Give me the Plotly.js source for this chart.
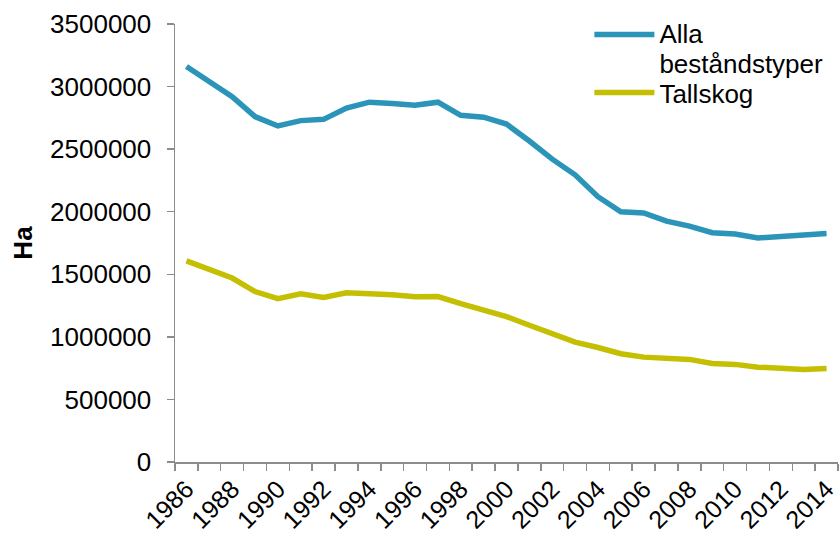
<!DOCTYPE html>
<html>
<head>
<meta charset="utf-8">
<script src="https://cdn.plot.ly/plotly-3.0.1.min.js"></script>
<style>html,body{margin:0;padding:0;background:#fff;}#chart{width:839px;height:535px;}</style>
</head>
<body>
<div id="chart"></div>
<script>
const years = [1986,1987,1988,1989,1990,1991,1992,1993,1994,1995,1996,1997,1998,1999,2000,2001,2002,2003,2004,2005,2006,2007,2008,2009,2010,2011,2012,2013,2014];
const allaBestandstyper = [3160000,3045000,2920000,2760000,2685000,2728000,2738000,2828000,2875000,2865000,2850000,2875000,2770000,2755000,2700000,2565000,2420000,2295000,2120000,2000000,1990000,1925000,1885000,1832000,1822000,1790000,1800000,1810000,1825000];
const tallskog = [1607000,1540000,1470000,1362000,1305000,1344000,1314000,1352000,1345000,1337000,1320000,1322000,1265000,1215000,1162000,1093000,1028000,958000,915000,865000,838000,828000,820000,788000,780000,758000,746000,740000,748000];
const tickYears = [1986,1988,1990,1992,1994,1996,1998,2000,2002,2004,2006,2008,2010,2012,2014];
const seriesNames = ["<span style='font-size:26px'>Alla</span><br><span style='font-size:26px'>beståndstyper</span>", "Tallskog"];

const FONT = "Arial, 'Liberation Sans', sans-serif";
const traces = [
  {x: years, y: allaBestandstyper, name: seriesNames[0], type: 'scatter', mode: 'lines',
   line: {color: '#2a95b8', width: 5.5}, legend: 'legend'},
  {x: years, y: tallskog, name: seriesNames[1], type: 'scatter', mode: 'lines',
   line: {color: '#c4bf00', width: 5.5}, legend: 'legend2'}
];
const legendBase = {xanchor: 'left', yanchor: 'top', valign: 'top',
  bgcolor: 'rgba(0,0,0,0)', itemwidth: 60};
const layout = {
  width: 839, height: 535,
  margin: {l: 175, r: 1, t: 24, b: 73},
  paper_bgcolor: '#fff', plot_bgcolor: '#fff',
  font: {family: FONT, size: 26, color: '#000'},
  showlegend: true,
  legend: Object.assign({x: 0.625, y: 1.025, font: {family: FONT, size: 23, color: '#000'}}, legendBase),
  legend2: Object.assign({x: 0.625, y: 0.897, font: {family: FONT, size: 26, color: '#000'}}, legendBase),
  xaxis: {
    type: 'linear', range: [1985.5, 2014.5],
    tickmode: 'array', tickvals: tickYears, ticktext: tickYears.map(String),
    tickangle: -45, ticks: 'outside', ticklen: 1, tickcolor: 'rgba(0,0,0,0)',
    ticklabeloverflow: 'allow',
    showline: true, linecolor: '#8c8c8c', linewidth: 1.5,
    showgrid: false, zeroline: false,
    tickfont: {family: FONT, size: 25, color: '#000'},
    minor: {tick0: 1985.5, dtick: 1, ticks: 'outside', ticklen: 7, tickcolor: '#8c8c8c', tickwidth: 1.5, showgrid: false}
  },
  yaxis: {
    range: [0, 3500000], dtick: 500000, tick0: 0, tickformat: 'd',
    ticks: 'outside', ticklen: 7, tickcolor: '#8c8c8c', tickwidth: 1.5,
    ticklabelstandoff: 10,
    showline: true, linecolor: '#8c8c8c', linewidth: 1.5,
    showgrid: false, zeroline: false,
    tickfont: {family: FONT, size: 26, color: '#000'},
    title: {text: '<b>Ha</b>', font: {family: FONT, size: 26, color: '#000'}, standoff: 10}
  }
};
Plotly.newPlot('chart', traces, layout, {displayModeBar: false, staticPlot: true});
</script>
</body>
</html>
